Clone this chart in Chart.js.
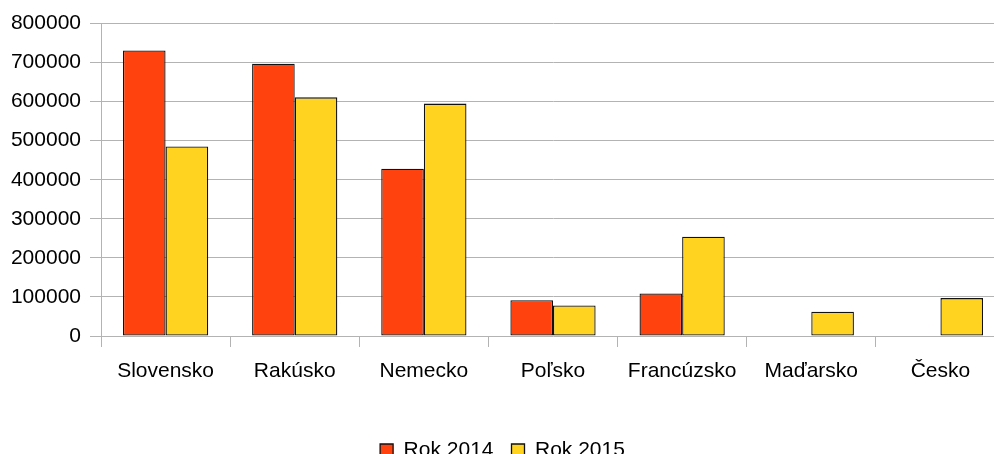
<!DOCTYPE html>
<html>
<head>
<meta charset="utf-8">
<script src="https://cdn.jsdelivr.net/npm/chart.js@4.4.0/dist/chart.umd.min.js"></script>
<style>
  html, body { margin: 0; padding: 0; overflow: hidden; background: #fff; }
  #wrap { width: 1005px; height: 471px; }
</style>
</head>
<body>
<div id="wrap"><canvas id="chart" width="1005" height="471"></canvas></div>
<script>
const categories = ['Slovensko', 'Rakúsko', 'Nemecko', 'Poľsko', 'Francúzsko', 'Maďarsko', 'Česko'];
const rok2014 = [731000, 697000, 428000, 91500, 109000, null, null];
const rok2015 = [485000, 611000, 595000, 78000, 254000, 62000, 97000];
const yMin = 0;
const yMax = 800000;
const yStep = 100000;

const fontFamily = '"Liberation Sans", Arial, sans-serif';
const gridColor = '#b3b3b3';

const ctx = document.getElementById('chart').getContext('2d');
new Chart(ctx, {
  type: 'bar',
  data: {
    labels: categories,
    datasets: [
      {
        label: 'Rok 2014',
        data: rok2014,
        backgroundColor: '#ff420e',
        borderColor: '#111',
        borderWidth: 1.3,
        borderSkipped: false
      },
      {
        label: 'Rok 2015',
        data: rok2015,
        backgroundColor: '#ffd320',
        borderColor: '#111',
        borderWidth: 1.3,
        borderSkipped: false
      }
    ]
  },
  options: {
    responsive: false,
    animation: false,
    categoryPercentage: 0.66,
    barPercentage: 1.0,
    layout: { padding: { top: 23.5, left: 0, right: 0, bottom: 0 } },
    plugins: {
      tooltip: { enabled: false },
      legend: {
        position: 'bottom',
        labels: {
          color: '#000',
          boxWidth: 13,
          boxHeight: 13,
          padding: 18,
          font: { family: fontFamily, size: 21 }
        }
      }
    },
    scales: {
      x: {
        afterFit: (scale) => { scale.height = 86; },
        grid: {
          offset: true,
          drawOnChartArea: false,
          color: gridColor,
          tickLength: 11
        },
        border: { display: false },
        ticks: {
          color: '#000',
          padding: 12,
          maxRotation: 0,
          font: { family: fontFamily, size: 21 }
        }
      },
      y: {
        min: yMin,
        max: yMax,
        afterFit: (scale) => { scale.width = 101; },
        grid: { color: gridColor, tickLength: 11 },
        border: { display: true, color: gridColor },
        ticks: {
          stepSize: yStep,
          color: '#000',
          padding: 9,
          callback: (v) => String(v),
          font: { family: fontFamily, size: 21 }
        }
      }
    }
  }
});
</script>
</body>
</html>
